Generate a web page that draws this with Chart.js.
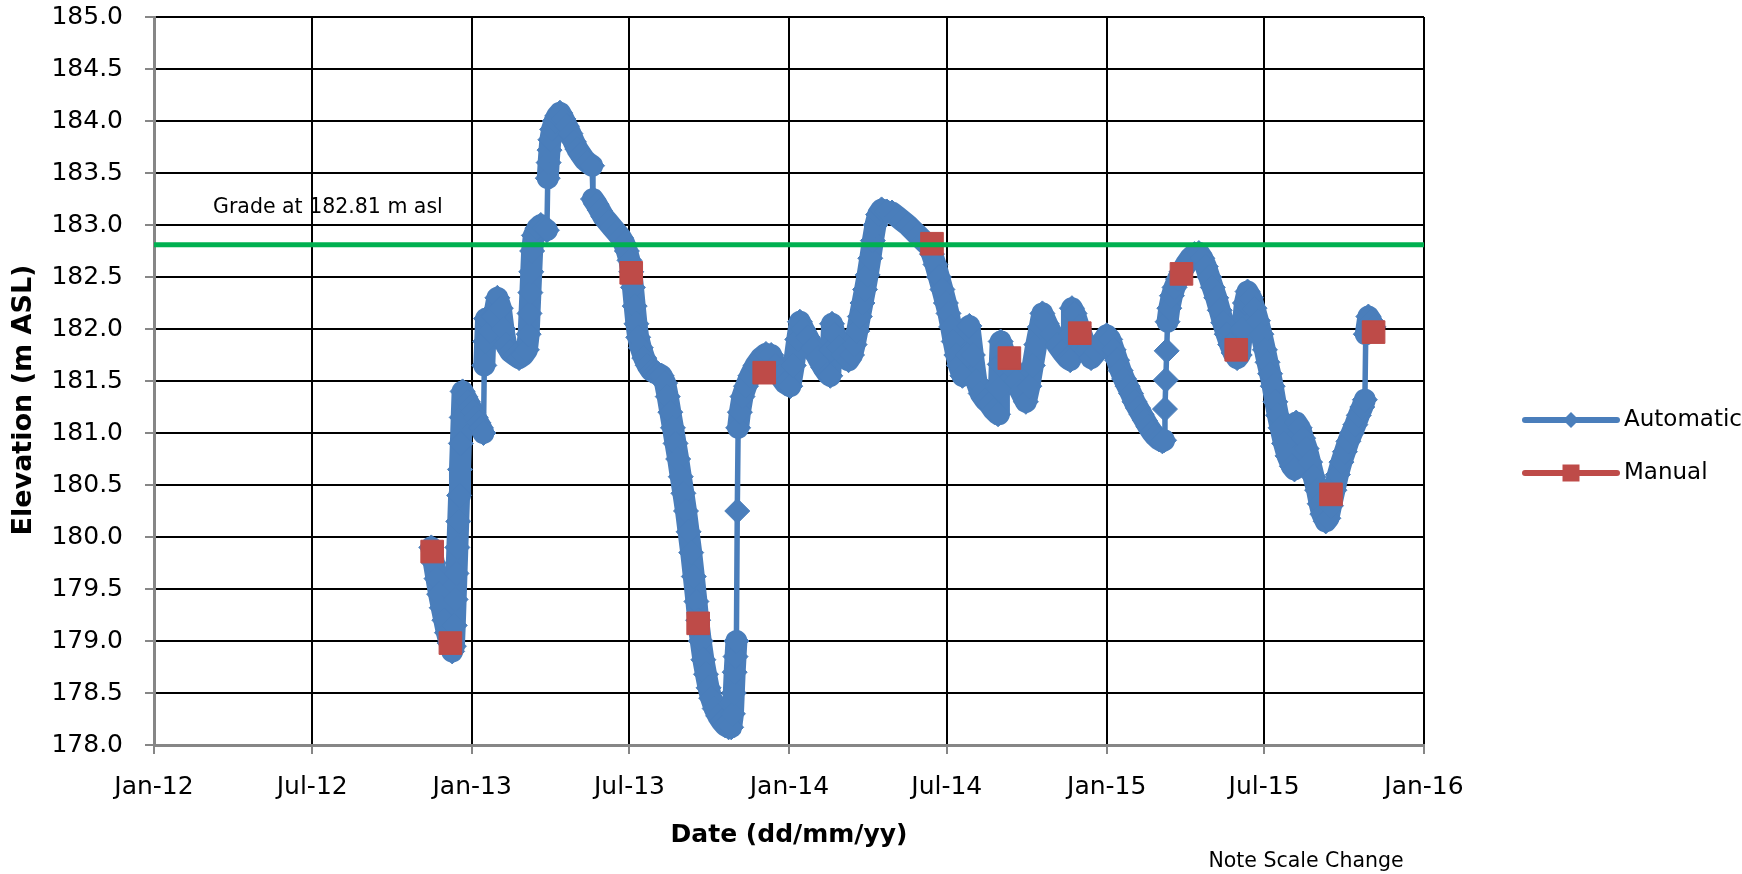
<!DOCTYPE html>
<html><head><meta charset="utf-8">
<script src="https://cdn.jsdelivr.net/npm/chart.js@4.4.1/dist/chart.umd.min.js"></script>
<style>html,body{margin:0;padding:0;background:#fff;overflow:hidden}canvas{display:block}</style>
</head><body>
<canvas id="c" width="1742" height="874"></canvas>
<script>
// ---------------- DATA ----------------
const seriesNames = ['Automatic', 'Manual'];
const xTitle = 'Date (dd/mm/yy)';
const yTitle = 'Elevation (m ASL)';
const gradeValue = 182.81;
const gradeLabel = 'Grade at 182.81 m asl';
const noteText = 'Note Scale Change';
const xTickDates = ['2012-01-01','2012-07-01','2013-01-01','2013-07-01','2014-01-01','2014-07-01','2015-01-01','2015-07-01','2016-01-01'];
const xTickLabels = ['Jan-12','Jul-12','Jan-13','Jul-13','Jan-14','Jul-14','Jan-15','Jul-15','Jan-16'];
const yMin = 178.0, yMax = 185.0, yStep = 0.5;

const autoDates = [
'2012-11-15','2012-11-18','2012-11-21','2012-11-24','2012-11-27','2012-11-30',
'2012-12-03','2012-12-06','2012-12-09','2012-12-11','2012-12-12','2012-12-13','2012-12-14','2012-12-15','2012-12-16','2012-12-17','2012-12-18','2012-12-19','2012-12-20','2012-12-21','2012-12-24','2012-12-27','2012-12-30',
'2013-01-02','2013-01-05','2013-01-08','2013-01-11','2013-01-14','2013-01-15','2013-01-16','2013-01-17','2013-01-19','2013-01-22','2013-01-26','2013-01-30',
'2013-02-03','2013-02-06','2013-02-09','2013-02-14','2013-02-19','2013-02-24',
'2013-03-01','2013-03-05','2013-03-07','2013-03-08','2013-03-09','2013-03-10','2013-03-11','2013-03-13','2013-03-17','2013-03-21','2013-03-25','2013-03-28','2013-03-29','2013-03-30','2013-03-31',
'2013-04-01','2013-04-03','2013-04-06','2013-04-09','2013-04-12','2013-04-16','2013-04-20','2013-04-24','2013-04-28',
'2013-05-02','2013-05-06','2013-05-10','2013-05-14','2013-05-19','2013-05-20','2013-05-24','2013-05-28',
'2013-06-01','2013-06-06','2013-06-11','2013-06-16','2013-06-21','2013-06-25','2013-06-28',
'2013-07-01','2013-07-03','2013-07-05','2013-07-07','2013-07-09','2013-07-11','2013-07-14','2013-07-18','2013-07-22','2013-07-26','2013-07-30',
'2013-08-03','2013-08-07','2013-08-11','2013-08-14','2013-08-17','2013-08-20','2013-08-23','2013-08-26','2013-08-29',
'2013-09-01','2013-09-04','2013-09-07','2013-09-10','2013-09-13','2013-09-16','2013-09-18','2013-09-21','2013-09-24','2013-09-27','2013-09-30',
'2013-10-03','2013-10-07','2013-10-11','2013-10-15','2013-10-19','2013-10-23','2013-10-26','2013-10-28','2013-10-29','2013-10-30','2013-10-31',
'2013-11-01','2013-11-02','2013-11-03','2013-11-05','2013-11-08','2013-11-12','2013-11-17','2013-11-23','2013-11-29',
'2013-12-05','2013-12-11','2013-12-16','2013-12-21','2013-12-27',
'2014-01-02','2014-01-06','2014-01-10','2014-01-13','2014-01-17','2014-01-22','2014-01-28',
'2014-02-03','2014-02-09','2014-02-14','2014-02-17','2014-02-18','2014-02-19','2014-02-22','2014-02-27',
'2014-03-04','2014-03-10','2014-03-14','2014-03-17','2014-03-20','2014-03-23','2014-03-26','2014-03-29',
'2014-04-01','2014-04-04','2014-04-07','2014-04-10','2014-04-13','2014-04-17','2014-04-23','2014-04-29',
'2014-05-05','2014-05-11','2014-05-17','2014-05-23','2014-05-29',
'2014-06-04','2014-06-10','2014-06-14','2014-06-18','2014-06-22','2014-06-26','2014-06-30',
'2014-07-03','2014-07-06','2014-07-09','2014-07-12','2014-07-15','2014-07-19','2014-07-24','2014-07-27','2014-07-31',
'2014-08-04','2014-08-09','2014-08-14','2014-08-19','2014-08-24','2014-08-29','2014-08-30','2014-08-31',
'2014-09-01','2014-09-04','2014-09-09','2014-09-14','2014-09-19','2014-09-24','2014-09-30',
'2014-10-04','2014-10-08','2014-10-12','2014-10-16','2014-10-19','2014-10-24','2014-10-30',
'2014-11-05','2014-11-11','2014-11-17','2014-11-20','2014-11-21','2014-11-22','2014-11-25','2014-11-30',
'2014-12-05','2014-12-10','2014-12-14','2014-12-20','2014-12-26',
'2015-01-01','2015-01-05','2015-01-09','2015-01-13','2015-01-17','2015-01-21','2015-01-25','2015-01-29',
'2015-02-02','2015-02-06','2015-02-10','2015-02-14','2015-02-18','2015-02-22','2015-02-26',
'2015-03-02','2015-03-06','2015-03-08','2015-03-09','2015-03-10','2015-03-11','2015-03-12','2015-03-14','2015-03-17','2015-03-20','2015-03-24','2015-03-28',
'2015-04-02','2015-04-07','2015-04-12','2015-04-17','2015-04-21','2015-04-25','2015-04-29',
'2015-05-03','2015-05-07','2015-05-11','2015-05-15','2015-05-19','2015-05-23','2015-05-27','2015-05-31',
'2015-06-03','2015-06-06','2015-06-09','2015-06-12','2015-06-16','2015-06-20','2015-06-24','2015-06-28',
'2015-07-02','2015-07-05','2015-07-08','2015-07-11','2015-07-14','2015-07-17','2015-07-20','2015-07-24','2015-07-28',
'2015-08-02','2015-08-05','2015-08-07','2015-08-11','2015-08-15','2015-08-19','2015-08-23','2015-08-27','2015-08-31',
'2015-09-03','2015-09-06','2015-09-10','2015-09-13','2015-09-16','2015-09-20','2015-09-24','2015-09-28',
'2015-10-02','2015-10-06','2015-10-10','2015-10-14','2015-10-18','2015-10-22','2015-10-25','2015-10-26','2015-10-29',
'2015-11-01','2015-11-04'
];
const autoValues = [
179.90,179.75,179.60,179.45,179.32,179.20,
179.08,178.98,178.90,178.95,179.15,179.40,179.65,179.90,180.15,180.40,180.65,180.90,181.15,181.40,181.35,181.30,181.25,
181.20,181.15,181.10,181.05,181.00,181.65,181.88,182.10,182.08,181.98,182.12,182.30,
182.20,182.00,181.85,181.78,181.75,181.72,
181.75,181.80,181.95,182.15,182.35,182.55,182.75,182.90,182.97,183.00,182.97,182.95,183.45,183.60,183.72,
183.82,183.92,184.00,184.05,184.08,184.02,183.95,183.88,183.80,
183.73,183.68,183.63,183.60,183.57,183.25,183.20,183.14,
183.08,183.03,182.98,182.93,182.88,182.82,182.75,
182.66,182.55,182.40,182.22,182.05,181.92,181.82,181.72,181.65,181.60,181.58,
181.57,181.55,181.48,181.35,181.20,181.05,180.90,180.75,180.58,
180.42,180.25,180.05,179.85,179.62,179.38,179.20,179.00,178.82,178.68,178.55,
178.45,178.35,178.28,178.23,178.19,178.17,178.17,178.30,178.50,178.70,178.85,
179.00,180.25,181.05,181.20,181.35,181.45,181.55,181.65,181.72,
181.76,181.75,181.65,181.55,181.48,
181.45,181.65,181.90,182.07,182.00,181.92,181.82,
181.72,181.63,181.57,181.55,181.80,182.05,181.95,181.83,
181.75,181.70,181.75,181.85,181.98,182.12,182.25,182.38,
182.52,182.68,182.85,183.00,183.10,183.15,183.13,183.12,
183.08,183.04,183.00,182.95,182.90,
182.85,182.80,182.72,182.62,182.50,182.38,182.25,
182.15,182.02,181.88,181.75,181.65,181.55,181.75,182.03,181.75,
181.50,181.38,181.32,181.28,181.22,181.18,181.42,181.66,
181.88,181.80,181.72,181.62,181.50,181.40,181.30,
181.45,181.65,181.85,182.02,182.15,182.05,181.95,
181.85,181.78,181.72,181.70,181.95,182.20,182.15,182.02,
181.90,181.80,181.72,181.78,181.86,
181.94,181.90,181.80,181.70,181.60,181.52,181.45,181.38,
181.30,181.24,181.18,181.12,181.06,181.01,180.97,
180.94,180.92,180.93,181.23,181.51,181.79,182.07,182.20,182.32,182.40,182.48,182.55,
182.62,182.68,182.72,182.73,182.68,182.60,182.50,
182.40,182.30,182.18,182.06,181.95,181.85,181.77,181.72,
181.75,182.00,182.25,182.36,182.30,182.20,182.08,181.95,
181.80,181.68,181.57,181.45,181.30,181.17,181.05,180.90,180.78,
180.68,180.65,181.10,181.05,180.95,180.85,180.72,180.58,180.45,
180.32,180.22,180.15,180.18,180.30,180.45,180.60,180.72,
180.82,180.92,181.00,181.08,181.17,181.25,181.32,181.95,182.12,
182.08,182.02
];

const manualDates = ['2012-11-16','2012-12-07','2013-07-03','2013-09-18','2013-12-03','2014-06-14','2014-09-11','2014-12-01','2015-03-28','2015-05-30','2015-09-16','2015-11-04'];
const manualValues = [179.86,178.98,182.54,179.17,181.58,182.82,181.72,181.96,182.53,181.80,180.41,181.97];

// ---------------- HELPERS ----------------
const BASE = Date.UTC(2012, 0, 1);
function dayOf(s) { const p = s.split('-').map(Number); return (Date.UTC(p[0], p[1] - 1, p[2]) - BASE) / 86400000; }
function toXY(dates, vals) { return dates.map((d, i) => ({ x: dayOf(d), y: vals[i] })); }
const tickDays = xTickDates.map(dayOf);

const BLUE = '#4A7EBB', RED = '#BE4B48', GREEN = '#00B050';
const FONT = 'DejaVu Sans';
const AREA = { left: 154, top: 17, right: 1424, bottom: 745 };

// thin connector where the level jumps faster than this (m per day)
const JUMP_RATE = 0.26;
function segWidth(ctx) {
  const dx = ctx.p1.parsed.x - ctx.p0.parsed.x;
  const dy = Math.abs(ctx.p1.parsed.y - ctx.p0.parsed.y);
  return (dx > 0 && dy / dx >= JUMP_RATE) ? 5.5 : 22;
}

const extras = {
  id: 'extras',
  afterDraw(chart) {
    const { ctx, scales: { x, y } } = chart;
    ctx.save();
    ctx.fillStyle = '#000';
    ctx.textBaseline = 'middle';
    // y axis title
    ctx.save();
    ctx.translate(24, 400);
    ctx.rotate(-Math.PI / 2);
    ctx.textAlign = 'center';
    ctx.font = 'bold 27px "' + FONT + '"';
    ctx.fillText(yTitle, 0, 0);
    ctx.restore();
    // annotations
    ctx.textAlign = 'left';
    ctx.font = '20.5px "' + FONT + '"';
    ctx.fillText(gradeLabel, x.left + 59, y.getPixelForValue(gradeValue) - 37);
    ctx.textAlign = 'center';
    ctx.fillText(noteText, 1306, 862);
    // legend
    const rows = [
      { ds: chart.data.datasets.find(d => d.label === seriesNames[0]), y: 420 },
      { ds: chart.data.datasets.find(d => d.label === seriesNames[1]), y: 473 }
    ];
    const lx0 = 1525, lx1 = 1617, tx = 1624;
    rows.forEach(r => {
      const c = r.ds.borderColor;
      ctx.strokeStyle = c; ctx.lineWidth = 6; ctx.lineCap = 'round';
      ctx.beginPath(); ctx.moveTo(lx0, r.y); ctx.lineTo(lx1, r.y); ctx.stroke();
      ctx.fillStyle = c;
      const cx = (lx0 + lx1) / 2;
      ctx.beginPath();
      if (r.ds.pointStyle === 'rectRot') {
        ctx.moveTo(cx - 8, r.y); ctx.lineTo(cx, r.y - 8); ctx.lineTo(cx + 8, r.y); ctx.lineTo(cx, r.y + 8);
      } else {
        ctx.rect(cx - 8.5, r.y - 8.5, 17, 17);
      }
      ctx.closePath(); ctx.fill();
      ctx.fillStyle = '#000';
      ctx.textAlign = 'left';
      ctx.font = '23px "' + FONT + '"';
      ctx.fillText(r.ds.label, tx, r.y);
    });
    ctx.restore();
  }
};

const padding = { top: AREA.top, right: 1742 - AREA.right, left: 0, bottom: 0 };
const chart = new Chart(document.getElementById('c'), {
  type: 'line',
  data: {
    datasets: [
      { label: 'grade', data: [{ x: tickDays[0], y: gradeValue }, { x: tickDays[tickDays.length - 1], y: gradeValue }],
        borderColor: GREEN, borderWidth: 5, pointRadius: 0, fill: false },
      { label: seriesNames[1], data: toXY(manualDates, manualValues), showLine: false,
        pointStyle: 'rect', pointRadius: 16, backgroundColor: RED, borderColor: RED, pointBorderWidth: 1 },
      { label: seriesNames[0], data: toXY(autoDates, autoValues), borderColor: BLUE, backgroundColor: BLUE,
        borderWidth: 22, borderJoinStyle: 'round', borderCapStyle: 'round',
        segment: { borderWidth: segWidth },
        pointStyle: 'rectRot', pointRadius: 12.5, pointBorderWidth: 1, tension: 0 }
    ]
  },
  options: {
    responsive: false, animation: false, devicePixelRatio: 1,
    layout: { padding: padding },
    plugins: { legend: { display: false }, tooltip: { enabled: false } },
    scales: {
      x: {
        type: 'linear', min: tickDays[0], max: tickDays[tickDays.length - 1],
        afterBuildTicks: s => { s.ticks = tickDays.map(v => ({ value: v })); },
        afterFit: s => { s.height = 874 - AREA.bottom; },
        ticks: { callback: (v, i) => xTickLabels[i], font: { family: FONT, size: 25 }, color: '#000', padding: 18, maxRotation: 0, autoSkip: false },
        grid: { color: '#000', lineWidth: 2, tickLength: 9, tickColor: '#868686', tickWidth: 2 },
        border: { color: '#868686', width: 3 },
        title: { display: true, text: xTitle, font: { family: FONT, size: 25, weight: 'bold' }, color: '#000', padding: { top: 0, bottom: 24 } }
      },
      y: {
        min: yMin, max: yMax,
        afterFit: s => { s.width = AREA.left; s.paddingTop = 0; s.paddingBottom = 0; },
        ticks: { stepSize: yStep, callback: v => Number(v).toFixed(1), font: { family: FONT, size: 25 }, color: '#000', padding: 22 },
        grid: { color: '#000', lineWidth: 2, tickLength: 9, tickColor: '#868686', tickWidth: 2 },
        border: { color: '#868686', width: 3 },
        title: { display: false, text: yTitle }
      }
    }
  },
  plugins: [extras]
});
// make sure the plot area lands where the reference has it
(function fixArea() {
  const ca = chart.chartArea;
  let changed = false;
  if (Math.abs(ca.top - AREA.top) > 0.5) { padding.top += AREA.top - ca.top; changed = true; }
  if (Math.abs(ca.right - AREA.right) > 0.5) { padding.right += ca.right - AREA.right; changed = true; }
  if (changed) chart.update();
})();
</script>
</body></html>
